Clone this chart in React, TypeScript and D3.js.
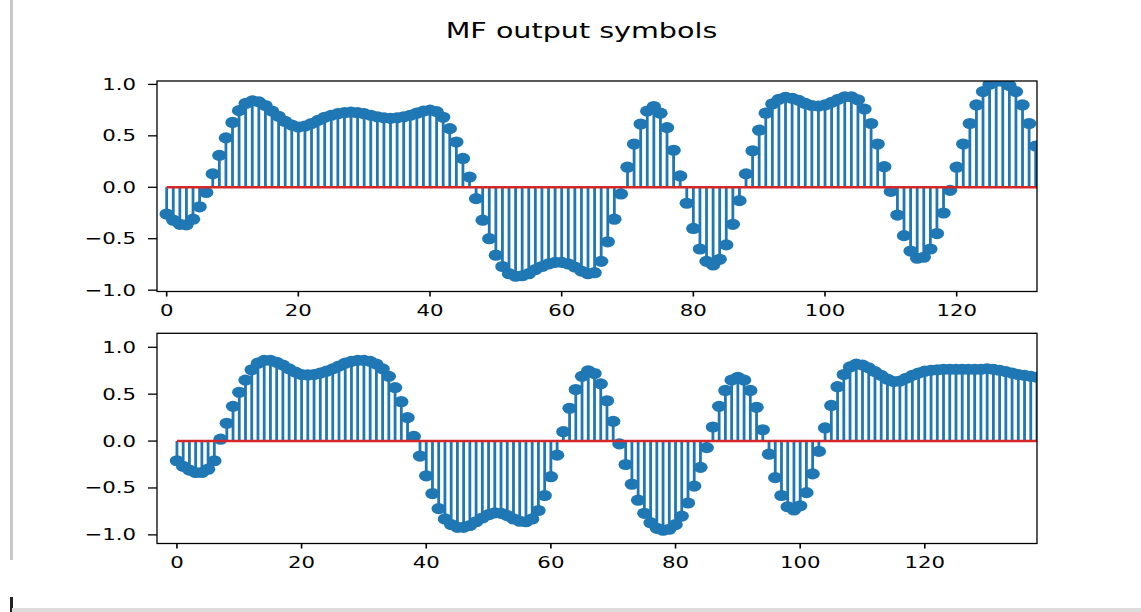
import React from "react";
import * as d3 from "d3";

// ---- data ----
const topValues: number[] = [
  -0.26, -0.32, -0.36, -0.365, -0.31, -0.19, -0.05, 0.13, 0.31, 0.48,
  0.63, 0.745, 0.815, 0.84, 0.83, 0.795, 0.74, 0.69, 0.64, 0.605,
  0.585, 0.595, 0.62, 0.65, 0.68, 0.7, 0.715, 0.725, 0.73, 0.725,
  0.715, 0.7, 0.685, 0.675, 0.67, 0.675, 0.685, 0.7, 0.72, 0.74,
  0.75, 0.735, 0.68, 0.57, 0.44, 0.28, 0.1, -0.11, -0.32, -0.5,
  -0.66, -0.77, -0.84, -0.865, -0.86, -0.84, -0.8, -0.77, -0.745, -0.73,
  -0.73, -0.745, -0.775, -0.815, -0.84, -0.83, -0.72, -0.53, -0.31, -0.065,
  0.195, 0.42, 0.615, 0.74, 0.785, 0.72, 0.58, 0.36, 0.11, -0.155,
  -0.4, -0.6, -0.72, -0.755, -0.7, -0.56, -0.36, -0.13, 0.13, 0.355,
  0.555, 0.72, 0.81, 0.855, 0.875, 0.865, 0.845, 0.815, 0.795, 0.79,
  0.8, 0.825, 0.855, 0.88, 0.88, 0.85, 0.76, 0.62, 0.42, 0.2,
  -0.04, -0.27, -0.47, -0.62, -0.69, -0.68, -0.6, -0.45, -0.25, -0.03,
  0.195, 0.42, 0.62, 0.8, 0.93, 1.0, 1.03, 1.03, 0.99, 0.93,
  0.8, 0.62, 0.4, 0.17,
];

const bottomValues: number[] = [
  -0.21, -0.27, -0.31, -0.335, -0.335, -0.3, -0.21, 0.02, 0.19, 0.37,
  0.52, 0.65, 0.76, 0.83, 0.86, 0.86, 0.84, 0.81, 0.77, 0.735,
  0.71, 0.705, 0.71, 0.725, 0.745, 0.77, 0.8, 0.83, 0.85, 0.86,
  0.86, 0.85, 0.82, 0.77, 0.69, 0.57, 0.42, 0.25, 0.05, -0.16,
  -0.37, -0.56, -0.72, -0.83, -0.89, -0.92, -0.92, -0.9, -0.86, -0.82,
  -0.785, -0.765, -0.77, -0.795, -0.83, -0.855, -0.86, -0.83, -0.74, -0.58,
  -0.38, -0.15, 0.1, 0.35, 0.55, 0.69, 0.75, 0.72, 0.61, 0.43,
  0.21, -0.03, -0.25, -0.46, -0.63, -0.77, -0.87, -0.93, -0.95, -0.94,
  -0.89, -0.8, -0.66, -0.48, -0.28, -0.07, 0.15, 0.37, 0.54, 0.65,
  0.68, 0.65, 0.54, 0.36, 0.12, -0.14, -0.39, -0.58, -0.7, -0.735,
  -0.69, -0.55, -0.35, -0.11, 0.14, 0.38, 0.58, 0.71, 0.79, 0.82,
  0.81, 0.78, 0.74, 0.7, 0.66, 0.635, 0.64, 0.67, 0.7, 0.725,
  0.745, 0.755, 0.76, 0.765, 0.765, 0.765, 0.765, 0.765, 0.765, 0.765,
  0.77, 0.765, 0.755, 0.74, 0.725, 0.71, 0.7, 0.69, 0.68,
];

const titleText = "MF output symbols";
const xTickValues = [0, 20, 40, 60, 80, 100, 120];
const yTickValues = [-1.0, -0.5, 0.0, 0.5, 1.0];

const W = 1141;
const H = 612;
const SX = 1.33; // horizontal stretch of the picture
const BLUE = "#1f77b4";
const RED = "#d62728";
const FONT = "DejaVu Sans";

interface PanelProps {
  id: string;
  values: number[];
  xDomain: [number, number];
  yDomain: [number, number];
  left: number;
  right: number;
  top: number;
  bottom: number;
}

const fmt = d3.format(".1f");

function Panel({ id, values, xDomain, yDomain, left, right, top, bottom }: PanelProps) {
  const x = d3.scaleLinear().domain(xDomain).range([left, right]);
  const y = d3.scaleLinear().domain(yDomain).range([bottom, top]);
  const y0 = y(0);
  const lastX = Math.min(right, x(values.length - 1));
  return (
    <g>
      <defs>
        <clipPath id={id}>
          <rect x={left} y={top} width={right - left} height={bottom - top} />
        </clipPath>
      </defs>
      <g clipPath={`url(#${id})`}>
        {values.map((v, i) => (
          <line key={"s" + i} x1={x(i)} x2={x(i)} y1={y0} y2={y(v)} stroke={BLUE} strokeWidth={2.8} />
        ))}
        {values.map((v, i) => (
          <ellipse key={"m" + i} cx={x(i)} cy={y(v)} rx={7.2} ry={5.6} fill={BLUE} />
        ))}
        <line x1={x(0)} x2={lastX + 5} y1={y0} y2={y0} stroke={RED} strokeWidth={2.4} />
      </g>
      <rect x={left} y={top} width={right - left} height={bottom - top} fill="none" stroke="#000" strokeWidth={1.3} />
      {yTickValues.map((t) => (
        <g key={"y" + t}>
          <line x1={left - 9} x2={left} y1={y(t)} y2={y(t)} stroke="#000" strokeWidth={1.3} />
          <text
            transform={`translate(${left - 21},${y(t)}) scale(${SX},1)`}
            textAnchor="end"
            dominantBaseline="central"
            fontFamily={FONT}
            fontSize={16}
            fill="#000"
          >
            {fmt(t)}
          </text>
        </g>
      ))}
      {xTickValues.map((t) => (
        <g key={"x" + t}>
          <line x1={x(t)} x2={x(t)} y1={bottom} y2={bottom + 5} stroke="#000" strokeWidth={1.6} />
          <text
            transform={`translate(${x(t)},${bottom + 24}) scale(${SX},1)`}
            textAnchor="middle"
            fontFamily={FONT}
            fontSize={16}
            fill="#000"
          >
            {String(t)}
          </text>
        </g>
      ))}
    </g>
  );
}

export default function App() {
  return (
    <svg
      width={W}
      height={H}
      style={{ position: "absolute", left: 0, top: 0, background: "#fff" }}
    >
      <rect x={0} y={0} width={W} height={H} fill="#fff" />
      {/* window decorations */}
      <rect x={10} y={0} width={3} height={560} fill="#c8c8c8" />
      <rect x={10} y={597} width={3} height={15} fill="#222" />
      <rect x={12} y={608} width={W - 12} height={4} fill="#dcdcdc" />
      <text
        transform={`translate(581.5,38) scale(${SX},1)`}
        textAnchor="middle"
        fontFamily={FONT}
        fontSize={21.5}
        fill="#000"
      >
        {titleText}
      </text>
      <Panel
        id="clipTop"
        values={topValues}
        xDomain={[-1.47, 132.2]}
        yDomain={[-1.013, 1.033]}
        left={157}
        right={1037}
        top={81}
        bottom={291.5}
      />
      <Panel
        id="clipBottom"
        values={bottomValues}
        xDomain={[-3.2, 138.0]}
        yDomain={[-1.092, 1.149]}
        left={157}
        right={1037}
        top={333.3}
        bottom={543.5}
      />
    </svg>
  );
}
